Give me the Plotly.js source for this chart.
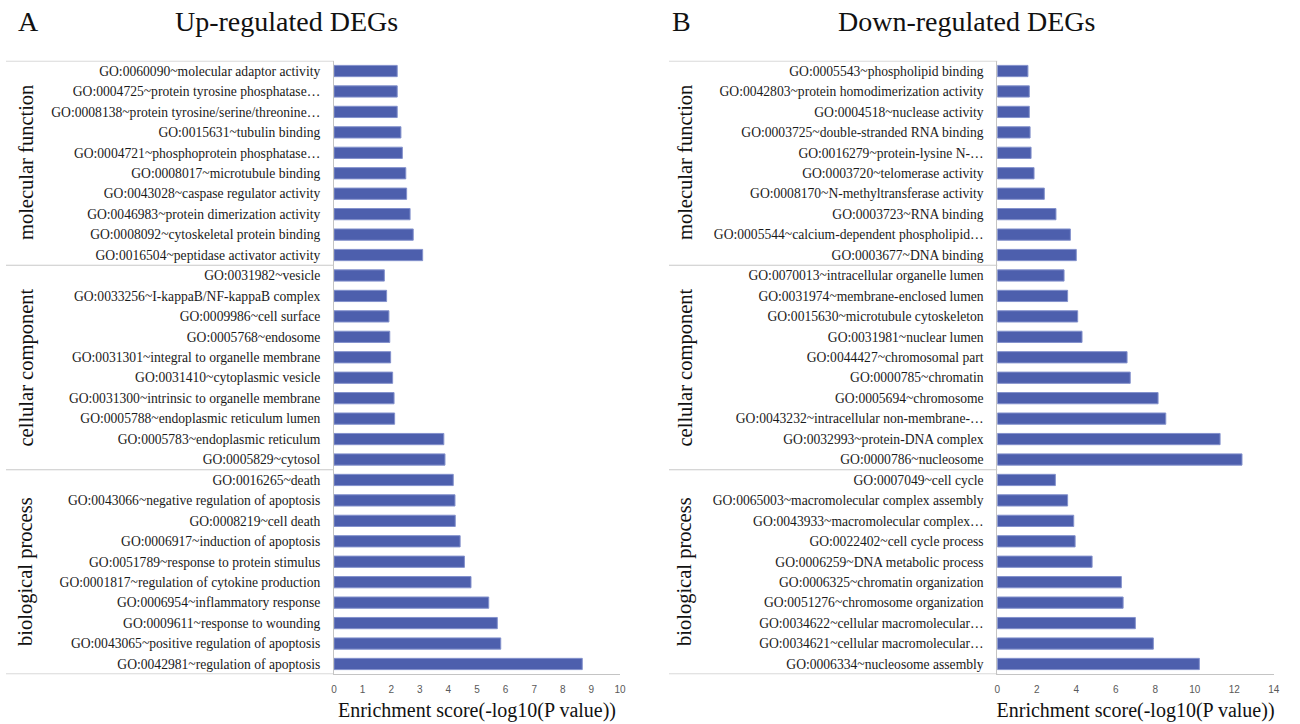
<!DOCTYPE html>
<html>
<head>
<meta charset="utf-8">
<script src="https://cdn.plot.ly/plotly-3.0.1.min.js"></script>
<style>html,body{margin:0;padding:0;background:#fff;}#chart{width:1300px;height:724px;}</style>
</head>
<body>
<div id="chart"></div>
<script>
const groupNames = ["molecular function", "cellular component", "biological process"];

const upLabels = [
  "GO:0060090~molecular adaptor activity",
  "GO:0004725~protein tyrosine phosphatase…",
  "GO:0008138~protein tyrosine/serine/threonine…",
  "GO:0015631~tubulin binding",
  "GO:0004721~phosphoprotein phosphatase…",
  "GO:0008017~microtubule binding",
  "GO:0043028~caspase regulator activity",
  "GO:0046983~protein dimerization activity",
  "GO:0008092~cytoskeletal protein binding",
  "GO:0016504~peptidase activator activity",
  "GO:0031982~vesicle",
  "GO:0033256~I-kappaB/NF-kappaB complex",
  "GO:0009986~cell surface",
  "GO:0005768~endosome",
  "GO:0031301~integral to organelle membrane",
  "GO:0031410~cytoplasmic vesicle",
  "GO:0031300~intrinsic to organelle membrane",
  "GO:0005788~endoplasmic reticulum lumen",
  "GO:0005783~endoplasmic reticulum",
  "GO:0005829~cytosol",
  "GO:0016265~death",
  "GO:0043066~negative regulation of apoptosis",
  "GO:0008219~cell death",
  "GO:0006917~induction of apoptosis",
  "GO:0051789~response to protein stimulus",
  "GO:0001817~regulation of cytokine production",
  "GO:0006954~inflammatory response",
  "GO:0009611~response to wounding",
  "GO:0043065~positive regulation of apoptosis",
  "GO:0042981~regulation of apoptosis"
];
const upValues = [2.21, 2.21, 2.21, 2.34, 2.39, 2.51, 2.54, 2.66, 2.77, 3.10,
                  1.76, 1.84, 1.92, 1.95, 1.98, 2.05, 2.10, 2.12, 3.84, 3.88,
                  4.17, 4.23, 4.24, 4.41, 4.56, 4.79, 5.41, 5.71, 5.83, 8.68];

const downLabels = [
  "GO:0005543~phospholipid binding",
  "GO:0042803~protein homodimerization activity",
  "GO:0004518~nuclease activity",
  "GO:0003725~double-stranded RNA binding",
  "GO:0016279~protein-lysine N-…",
  "GO:0003720~telomerase activity",
  "GO:0008170~N-methyltransferase activity",
  "GO:0003723~RNA binding",
  "GO:0005544~calcium-dependent phospholipid…",
  "GO:0003677~DNA binding",
  "GO:0070013~intracellular organelle lumen",
  "GO:0031974~membrane-enclosed lumen",
  "GO:0015630~microtubule cytoskeleton",
  "GO:0031981~nuclear lumen",
  "GO:0044427~chromosomal part",
  "GO:0000785~chromatin",
  "GO:0005694~chromosome",
  "GO:0043232~intracellular non-membrane-…",
  "GO:0032993~protein-DNA complex",
  "GO:0000786~nucleosome",
  "GO:0007049~cell cycle",
  "GO:0065003~macromolecular complex assembly",
  "GO:0043933~macromolecular complex…",
  "GO:0022402~cell cycle process",
  "GO:0006259~DNA metabolic process",
  "GO:0006325~chromatin organization",
  "GO:0051276~chromosome organization",
  "GO:0034622~cellular macromolecular…",
  "GO:0034621~cellular macromolecular…",
  "GO:0006334~nucleosome assembly"
];
const downValues = [1.55, 1.62, 1.62, 1.66, 1.71, 1.86, 2.38, 2.97, 3.70, 4.00,
                    3.38, 3.56, 4.07, 4.29, 6.57, 6.73, 8.14, 8.53, 11.28, 12.39,
                    2.94, 3.56, 3.87, 3.94, 4.80, 6.28, 6.37, 6.99, 7.90, 10.23];

const groupSize = 10;

const W = 1300, H = 724;
const serif = "Liberation Serif, Times New Roman, serif";
const barColor = "#4d5fad";
const barEdge = "#8391cc";

// unique y-values for category axes (the two panels share category text like "cellular macromolecular…")
function uniq(labels) {
  const seen = {};
  return labels.map(l => { if (seen[l]) { seen[l]++; return l + "\u200b".repeat(seen[l]-1); } seen[l] = 1; return l; });
}
const upY = uniq(upLabels);
const downY = uniq(downLabels);

const traces = [
  {type: "bar", orientation: "h", x: upValues, y: upY, xaxis: "x", yaxis: "y",
   width: 0.55, marker: {color: barColor, line: {color: barEdge, width: 1}}, hoverinfo: "x+y"},
  {type: "bar", orientation: "h", x: downValues, y: downY, xaxis: "x2", yaxis: "y2",
   width: 0.55, marker: {color: barColor, line: {color: barEdge, width: 1}}, hoverinfo: "x+y"}
];

const yDom = [1 - 674.2 / H, 1 - 60.8 / H];
const n = upLabels.length;

function yAxis(anchor) {
  return {
    domain: yDom, anchor: anchor, type: "category", autorange: false,
    range: [n - 0.5, -0.5], showgrid: false, zeroline: false,
    showline: true, linecolor: "#c4c4c4", linewidth: 1, ticks: "",
    ticklabelstandoff: 10,
    tickfont: {family: serif, size: 13.6, color: "#1a1a1a"}, fixedrange: true
  };
}
function xAxis(dom, maxv, step, anchor) {
  return {
    domain: dom, anchor: anchor, range: [0, maxv], dtick: step, tick0: 0,
    showgrid: false, zeroline: false, showline: true, linecolor: "#c4c4c4", linewidth: 1,
    ticks: "", ticklabelstandoff: 6,
    tickfont: {family: "Liberation Sans, Arial, sans-serif", size: 10, color: "#595959"},
    title: {text: "Enrichment score(-log10(P value))", standoff: 8,
            font: {family: serif, size: 20, color: "#111"}},
    fixedrange: true
  };
}

const shapes = [];
const annotations = [];
const panels = [
  {ya: "y", left: 6, right: 334, gx: 26},
  {ya: "y2", left: 669, right: 997.3, gx: 685}
];
panels.forEach(p => {
  for (let g = 0; g <= groupNames.length; g++) {
    const yy = g * groupSize - 0.5;
    shapes.push({type: "line", xref: "paper", yref: p.ya, x0: p.left / W, x1: p.right / W,
                 y0: yy, y1: yy, line: {color: "#c8c8c8", width: 1.2}});
  }
  groupNames.forEach((name, g) => {
    annotations.push({xref: "paper", yref: p.ya, x: p.gx / W, y: g * groupSize + (groupSize - 1) / 2,
                      text: name, textangle: -90, showarrow: false, xanchor: "center", yanchor: "middle",
                      font: {family: serif, size: 20.5, color: "#111"}});
  });
});

annotations.push(
  {xref: "paper", yref: "paper", x: 28 / W, y: 1 - 22 / H, text: "A", showarrow: false,
   xanchor: "center", yanchor: "middle", font: {family: serif, size: 28, color: "#111"}},
  {xref: "paper", yref: "paper", x: 286 / W, y: 1 - 22 / H, text: "Up-regulated DEGs", showarrow: false,
   xanchor: "center", yanchor: "middle", font: {family: serif, size: 28, color: "#111"}},
  {xref: "paper", yref: "paper", x: 681 / W, y: 1 - 22 / H, text: "B", showarrow: false,
   xanchor: "center", yanchor: "middle", font: {family: serif, size: 28, color: "#111"}},
  {xref: "paper", yref: "paper", x: 966 / W, y: 1 - 22 / H, text: "Down-regulated DEGs", showarrow: false,
   xanchor: "center", yanchor: "middle", font: {family: serif, size: 28, color: "#111"}}
);

const layout = {
  width: W, height: H, margin: {l: 0, r: 0, t: 0, b: 0},
  paper_bgcolor: "#fff", plot_bgcolor: "#fff", showlegend: false, bargap: 0.45,
  xaxis: xAxis([334 / W, 620 / W], 10, 1, "y"),
  yaxis: yAxis("x"),
  xaxis2: xAxis([997.3 / W, 1273.8 / W], 14, 2, "y2"),
  yaxis2: yAxis("x2"),
  shapes: shapes, annotations: annotations
};

Plotly.newPlot("chart", traces, layout, {displayModeBar: false, staticPlot: true});
</script>
</body>
</html>
